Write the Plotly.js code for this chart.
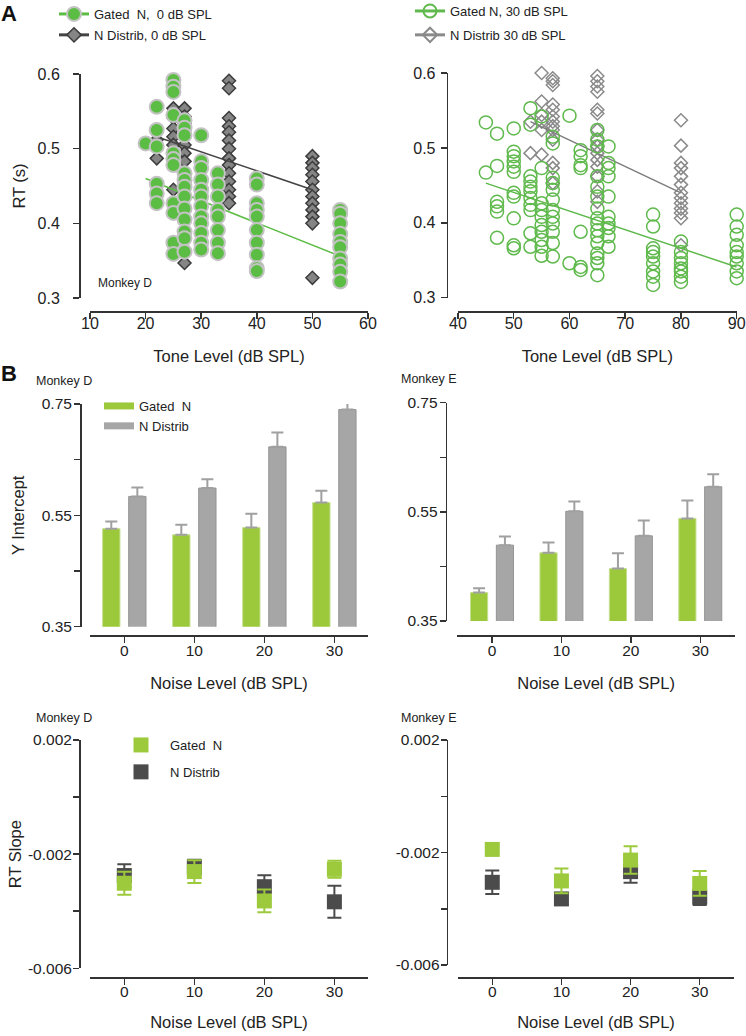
<!DOCTYPE html>
<html>
<head>
<meta charset="utf-8">
<script src="https://cdn.plot.ly/plotly-3.0.1.min.js"></script>
<style>html,body{margin:0;padding:0;background:#fff}</style>
</head>
<body>
<div id="chart" style="width:746px;height:1036px"></div>
<script>
// ---------------- Panel A data (RT vs tone level) ----------------
const gated0Levels = [20, 22, 25, 27, 30, 33, 40, 55];
const gated0RT = [
  [0.507],
  [0.556, 0.525, 0.503, 0.453, 0.440, 0.427],
  [0.601, 0.592, 0.583, 0.576, 0.545, 0.494, 0.486, 0.478, 0.427, 0.414, 0.374, 0.359],
  [0.538, 0.528, 0.518, 0.467, 0.458, 0.449, 0.436, 0.420, 0.405, 0.389, 0.380, 0.362],
  [0.518, 0.483, 0.474, 0.458, 0.445, 0.436, 0.423, 0.409, 0.400, 0.387, 0.374, 0.365],
  [0.467, 0.452, 0.436, 0.418, 0.409, 0.391, 0.374, 0.360],
  [0.460, 0.452, 0.427, 0.418, 0.409, 0.391, 0.374, 0.358, 0.340, 0.336],
  [0.418, 0.413, 0.400, 0.386, 0.375, 0.368, 0.353, 0.345, 0.335, 0.322]
];
const distrib0Levels = [22, 25, 27, 35, 50];
const distrib0RT = [
  [0.487, 0.512],
  [0.554, 0.541, 0.527, 0.516, 0.505, 0.494, 0.485, 0.445],
  [0.554, 0.543, 0.534, 0.505, 0.494, 0.483, 0.347],
  [0.591, 0.581, 0.541, 0.530, 0.522, 0.511, 0.500, 0.487, 0.478, 0.467, 0.456, 0.445, 0.436, 0.427],
  [0.490, 0.481, 0.474, 0.465, 0.456, 0.445, 0.436, 0.427, 0.418, 0.409, 0.400, 0.327]
];
const fitGated0X = [20, 55];
const fitGated0Y = [0.460, 0.356];
const fitDistrib0X = [22, 50];
const fitDistrib0Y = [0.516, 0.445];

const gated30Levels = [45, 47, 50, 53, 55, 57, 60, 62, 65, 67, 75, 80, 90];
const gated30RT = [
  [0.534, 0.467],
  [0.519, 0.476, 0.428, 0.422, 0.415, 0.380],
  [0.526, 0.495, 0.489, 0.482, 0.475, 0.468, 0.440, 0.435, 0.406, 0.370, 0.366],
  [0.553, 0.531, 0.462, 0.455, 0.448, 0.442, 0.433, 0.424, 0.417, 0.386, 0.368],
  [0.542, 0.473, 0.426, 0.417, 0.408, 0.397, 0.388, 0.377, 0.368, 0.356],
  [0.515, 0.506, 0.460, 0.453, 0.444, 0.431, 0.417, 0.408, 0.399, 0.388, 0.373, 0.355],
  [0.543, 0.346],
  [0.497, 0.489, 0.477, 0.473, 0.388, 0.341, 0.337],
  [0.524, 0.511, 0.502, 0.462, 0.448, 0.435, 0.419, 0.406, 0.399, 0.390, 0.382, 0.373, 0.359, 0.353, 0.346, 0.330],
  [0.502, 0.480, 0.473, 0.462, 0.435, 0.408, 0.399, 0.393, 0.382, 0.368],
  [0.411, 0.395, 0.366, 0.361, 0.355, 0.346, 0.335, 0.328, 0.317],
  [0.375, 0.361, 0.353, 0.346, 0.339, 0.335, 0.328, 0.321],
  [0.411, 0.395, 0.384, 0.370, 0.361, 0.355, 0.346, 0.335, 0.326]
];
const distrib30Levels = [53, 55, 57, 65, 80];
const distrib30RT = [
  [0.535, 0.493],
  [0.600, 0.562, 0.544, 0.535, 0.524, 0.491],
  [0.593, 0.589, 0.584, 0.558, 0.551, 0.542, 0.535, 0.529, 0.524, 0.511, 0.480, 0.473, 0.453],
  [0.596, 0.589, 0.582, 0.575, 0.551, 0.546, 0.524, 0.511, 0.502, 0.493, 0.484, 0.475, 0.462, 0.442, 0.428],
  [0.537, 0.503, 0.480, 0.473, 0.462, 0.451, 0.440, 0.433, 0.426, 0.419, 0.413, 0.406, 0.370]
];
const fitGated30X = [45, 90];
const fitGated30Y = [0.453, 0.341];
const fitDistrib30X = [53, 80];
const fitDistrib30Y = [0.535, 0.440];

// ---------------- Panel B data ----------------
const noiseLevels = [0, 10, 20, 30];
const noiseTickText = ['0', '10', '20', '30'];

const interceptD_gated = [0.526, 0.515, 0.528, 0.573];
const interceptD_gatedErr = [0.013, 0.018, 0.025, 0.021];
const interceptD_distrib = [0.584, 0.599, 0.673, 0.740];
const interceptD_distribErr = [0.016, 0.016, 0.026, 0.013];

const interceptE_gated = [0.402, 0.475, 0.446, 0.538];
const interceptE_gatedErr = [0.008, 0.019, 0.028, 0.033];
const interceptE_distrib = [0.489, 0.551, 0.506, 0.596];
const interceptE_distribErr = [0.016, 0.018, 0.028, 0.023];

const interceptTicks = [0.35, 0.45, 0.55, 0.65, 0.75];
const interceptTickText = ['0.35', '', '0.55', '', '0.75'];

const slopeD_gated = [-0.00302, -0.00261, -0.00364, -0.00253];
const slopeD_gatedErr = [0.0004, 0.0004, 0.0004, 0.0003];
const slopeD_distrib = [-0.00275, -0.00245, -0.00314, -0.00367];
const slopeD_distribErr = [0.0004, 0.00025, 0.0004, 0.00056];

const slopeE_gated = [-0.00189, -0.00301, -0.00227, -0.00310];
const slopeE_gatedErr = [0.0001, 0.00044, 0.00049, 0.00044];
const slopeE_distrib = [-0.00306, -0.00365, -0.00268, -0.00359];
const slopeE_distribErr = [0.00042, 0.0002, 0.0004, 0.00028];

const slopeTicks = [-0.006, -0.004, -0.002, 0, 0.002];
const slopeTickText = ['-0.006', '', '-0.002', '', '0.002'];

// ---------------- helpers ----------------
const W = 746, H = 1036;
const fx = p => p / W;
const fy = p => 1 - p / H;
const FONT = '"Liberation Sans", Arial, Helvetica, sans-serif';
const INK = '#222222';

function flatten(levels, groups) {
  const x = [], y = [];
  levels.forEach((lv, i) => groups[i].forEach(v => { x.push(lv); y.push(v); }));
  return {x, y};
}

const G_FILL = '#5cbd45';
const G_OPEN = '#5fb94c';
const BAR_GREEN = '#9cc93b';
const BAR_GRAY = '#a6a6a6';
const SQ_GREEN = '#9cca3c';
const SQ_DARK = '#4b4b4b';

const g0 = flatten(gated0Levels, gated0RT);
const d0 = flatten(distrib0Levels, distrib0RT);
const g30 = flatten(gated30Levels, gated30RT);
const d30 = flatten(distrib30Levels, distrib30RT);

const traces = [];

// Panel A left
traces.push({type: 'scatter', mode: 'markers', x: d0.x, y: d0.y, xaxis: 'x', yaxis: 'y',
  name: 'N Distrib, 0 dB SPL', showlegend: false, cliponaxis: false,
  marker: {symbol: 'diamond', size: 10, color: '#858585', line: {color: '#3c3c3c', width: 1.5}}});
traces.push({type: 'scatter', mode: 'lines', x: fitDistrib0X, y: fitDistrib0Y, xaxis: 'x', yaxis: 'y',
  showlegend: false, line: {color: '#444444', width: 1.5}});
traces.push({type: 'scatter', mode: 'lines', x: fitGated0X, y: fitGated0Y, xaxis: 'x', yaxis: 'y',
  showlegend: false, line: {color: G_FILL, width: 1.5}});
traces.push({type: 'scatter', mode: 'markers', x: g0.x, y: g0.y, xaxis: 'x', yaxis: 'y',
  name: 'Gated  N,  0 dB SPL', showlegend: false, cliponaxis: false,
  marker: {symbol: 'circle', size: 14, color: G_FILL, line: {color: '#c3c3c3', width: 2}}});

// Panel A right
traces.push({type: 'scatter', mode: 'markers', x: d30.x, y: d30.y, xaxis: 'x2', yaxis: 'y2',
  name: 'N Distrib 30 dB SPL', showlegend: false, cliponaxis: false,
  marker: {symbol: 'diamond-open', size: 10, color: '#8a8a8a', line: {width: 1.5}}});
traces.push({type: 'scatter', mode: 'lines', x: fitDistrib30X, y: fitDistrib30Y, xaxis: 'x2', yaxis: 'y2',
  showlegend: false, line: {color: '#7d7d7d', width: 1.5}});
traces.push({type: 'scatter', mode: 'markers', x: g30.x, y: g30.y, xaxis: 'x2', yaxis: 'y2',
  name: 'Gated N, 30 dB SPL', showlegend: false, cliponaxis: false,
  marker: {symbol: 'circle-open', size: 13, color: G_OPEN, line: {width: 1.5}}});
traces.push({type: 'scatter', mode: 'lines', x: fitGated30X, y: fitGated30Y, xaxis: 'x2', yaxis: 'y2',
  showlegend: false, line: {color: G_OPEN, width: 1.5}});

// Legend-only entries for panel A
traces.push({type: 'scatter', mode: 'lines+markers', x: [null], y: [null], xaxis: 'x', yaxis: 'y',
  name: 'Gated  N,  0 dB SPL', legend: 'legend', legendgroup: 'a1', legendrank: 1,
  line: {color: G_FILL, width: 3}, marker: {symbol: 'circle', size: 14, color: G_FILL, line: {color: '#c3c3c3', width: 2}}});
traces.push({type: 'scatter', mode: 'lines+markers', x: [null], y: [null], xaxis: 'x', yaxis: 'y',
  name: 'N Distrib, 0 dB SPL', legend: 'legend', legendgroup: 'a2', legendrank: 2,
  line: {color: '#444444', width: 3}, marker: {symbol: 'diamond', size: 11, color: '#858585', line: {color: '#3c3c3c', width: 1.5}}});
traces.push({type: 'scatter', mode: 'lines+markers', x: [null], y: [null], xaxis: 'x2', yaxis: 'y2',
  name: 'Gated N, 30 dB SPL', legend: 'legend2', legendgroup: 'b1', legendrank: 1,
  line: {color: G_OPEN, width: 3}, marker: {symbol: 'circle-open', size: 13, color: G_OPEN, line: {width: 2}}});
traces.push({type: 'scatter', mode: 'lines+markers', x: [null], y: [null], xaxis: 'x2', yaxis: 'y2',
  name: 'N Distrib 30 dB SPL', legend: 'legend2', legendgroup: 'b2', legendrank: 2,
  line: {color: '#8a8a8a', width: 3}, marker: {symbol: 'diamond-open', size: 11, color: '#8a8a8a', line: {width: 2}}});

// Panel B bars
function barTrace(y, err, color, lineColor, xa, ya, name) {
  return {type: 'bar', x: noiseLevels, y: y, xaxis: xa, yaxis: ya, name: name, showlegend: false,
    marker: {color: color, line: {color: lineColor, width: 1}},
    error_y: {type: 'data', symmetric: false, array: err, arrayminus: err.map(() => 0),
      color: '#a0a0a0', thickness: 2, width: 6}};
}
traces.push(barTrace(interceptD_gated, interceptD_gatedErr, BAR_GREEN, '#c4df8e', 'x3', 'y3', 'Gated  N'));
traces.push(barTrace(interceptD_distrib, interceptD_distribErr, BAR_GRAY, '#949494', 'x3', 'y3', 'N Distrib'));
traces.push(barTrace(interceptE_gated, interceptE_gatedErr, BAR_GREEN, '#c4df8e', 'x4', 'y4', 'Gated  N'));
traces.push(barTrace(interceptE_distrib, interceptE_distribErr, BAR_GRAY, '#949494', 'x4', 'y4', 'N Distrib'));
traces.push({type: 'scatter', mode: 'lines', x: [null], y: [null], xaxis: 'x3', yaxis: 'y3',
  name: 'Gated  N', legend: 'legend3', legendgroup: 'c1', legendrank: 1, line: {color: BAR_GREEN, width: 7}});
traces.push({type: 'scatter', mode: 'lines', x: [null], y: [null], xaxis: 'x3', yaxis: 'y3',
  name: 'N Distrib', legend: 'legend3', legendgroup: 'c2', legendrank: 2, line: {color: BAR_GRAY, width: 7}});

// Panel B slopes
function slopeTrace(y, err, color, xa, ya, name, showlegend, group, rank) {
  return {type: 'scatter', mode: 'markers', x: noiseLevels, y: y, xaxis: xa, yaxis: ya, name: name,
    showlegend: showlegend, legend: 'legend4', legendgroup: group, legendrank: rank, cliponaxis: false,
    marker: {symbol: 'square', size: 15, color: color},
    error_y: {type: 'data', array: err, color: color, thickness: 2, width: 7}};
}
traces.push(slopeTrace(slopeD_distrib, slopeD_distribErr, SQ_DARK, 'x5', 'y5', 'N Distrib', true, 'd2', 2));
traces.push(slopeTrace(slopeD_gated, slopeD_gatedErr, SQ_GREEN, 'x5', 'y5', 'Gated  N', true, 'd1', 1));
traces.push(slopeTrace(slopeE_distrib, slopeE_distribErr, SQ_DARK, 'x6', 'y6', 'N Distrib', false, 'd2', 2));
traces.push(slopeTrace(slopeE_gated, slopeE_gatedErr, SQ_GREEN, 'x6', 'y6', 'Gated  N', false, 'd1', 1));

// ---------------- layout ----------------
function ax(opts) {
  return Object.assign({
    anchor: 'free', showline: true, linecolor: '#333333', linewidth: 1.5,
    ticks: 'outside', ticklen: 6, tickwidth: 1.5, tickcolor: '#333333',
    showgrid: false, zeroline: false, fixedrange: true,
    tickfont: {family: FONT, size: 16, color: INK}
  }, opts);
}
function ttl(text, standoff) {
  return {text: text, standoff: standoff, font: {family: FONT, size: 16.5, color: INK}};
}
const bTick = {family: FONT, size: 15.5, color: INK};

function legendBox(x, yTop, gap, itemwidth) {
  return {x: fx(x), y: fy(yTop), xanchor: 'left', yanchor: 'top', bgcolor: 'rgba(0,0,0,0)',
    borderwidth: 0, tracegroupgap: gap, itemwidth: itemwidth,
    font: {family: FONT, size: 13, color: INK}};
}

const layout = {
  width: W, height: H,
  margin: {l: 0, r: 0, t: 0, b: 0, autoexpand: false},
  paper_bgcolor: '#ffffff', plot_bgcolor: 'rgba(0,0,0,0)',
  font: {family: FONT, color: INK},
  barmode: 'group', bargap: 0.256, bargroupgap: 0.336,
  hovermode: false,
  xaxis: ax({domain: [fx(90), fx(368)], range: [10, 60], tick0: 10, dtick: 10, position: fy(311),
    ticklabelstandoff: -9, title: ttl('Tone Level (dB SPL)', 19)}),
  yaxis: ax({domain: [fy(298), fy(74)], range: [0.3, 0.6], tick0: 0.3, dtick: 0.1, tickformat: '.1f', position: fx(79),
    ticklabelstandoff: 10, title: ttl('RT (s)', 6)}),
  xaxis2: ax({domain: [fx(458), fx(736.7)], range: [40, 90], tick0: 40, dtick: 10, position: fy(311),
    ticklabelstandoff: -9, title: ttl('Tone Level (dB SPL)', 19)}),
  yaxis2: ax({domain: [fy(297.7), fy(73)], range: [0.3, 0.6], tick0: 0.3, dtick: 0.1, tickformat: '.1f', position: fx(446.7),
    ticklabelstandoff: 2}),
  xaxis3: ax({domain: [fx(90), fx(368)], range: [-4.9, 34.8], tickvals: noiseLevels, ticktext: noiseTickText,
    position: fy(635.3), tickfont: bTick, ticklabelstandoff: -5, title: ttl('Noise Level (dB SPL)', 19)}),
  yaxis3: ax({domain: [fy(626.7), fy(404)], range: [0.35, 0.75], tickvals: interceptTicks, ticktext: interceptTickText,
    position: fx(80), tickfont: bTick, ticklabelstandoff: -1, title: ttl('Y Intercept', 11)}),
  xaxis4: ax({domain: [fx(457.3), fx(735)], range: [-5, 35], tickvals: noiseLevels, ticktext: noiseTickText,
    position: fy(635.3), tickfont: bTick, ticklabelstandoff: -5, title: ttl('Noise Level (dB SPL)', 19)}),
  yaxis4: ax({domain: [fy(621), fy(402.7)], range: [0.35, 0.75], tickvals: interceptTicks, ticktext: interceptTickText,
    position: fx(445.7), tickfont: bTick, ticklabelstandoff: -1}),
  xaxis5: ax({domain: [fx(90), fx(368)], range: [-4.9, 34.8], tickvals: noiseLevels, ticktext: noiseTickText,
    position: fy(977.3), tickfont: bTick, ticklabelstandoff: -6, title: ttl('Noise Level (dB SPL)', 17)}),
  yaxis5: ax({domain: [fy(968.3), fy(740)], range: [-0.006, 0.002], tickvals: slopeTicks, ticktext: slopeTickText,
    position: fx(79), tickfont: bTick, ticklabelstandoff: -2, title: ttl('RT Slope', 0)}),
  xaxis6: ax({domain: [fx(457.7), fx(734.3)], range: [-5, 35], tickvals: noiseLevels, ticktext: noiseTickText,
    position: fy(977.3), tickfont: bTick, ticklabelstandoff: -6, title: ttl('Noise Level (dB SPL)', 17)}),
  yaxis6: ax({domain: [fy(965), fy(740)], range: [-0.006, 0.002], tickvals: slopeTicks, ticktext: slopeTickText,
    position: fx(446.7), tickfont: bTick, ticklabelstandoff: -2}),
  legend: legendBox(54, -1, 1, 30),
  legend2: legendBox(410, -4, 4, 30),
  legend3: legendBox(99, 391, 0, 30),
  legend4: legendBox(112, 730, 7, 48),
  annotations: [
    {text: '<b>A</b>', x: fx(9), y: fy(14), xref: 'paper', yref: 'paper', showarrow: false,
      xanchor: 'center', yanchor: 'middle', font: {family: FONT, size: 22, color: '#111'}},
    {text: '<b>B</b>', x: fx(9), y: fy(373), xref: 'paper', yref: 'paper', showarrow: false,
      xanchor: 'center', yanchor: 'middle', font: {family: FONT, size: 22, color: '#111'}},
    {text: 'Monkey D', x: fx(96), y: fy(283), xref: 'paper', yref: 'paper', showarrow: false,
      xanchor: 'left', yanchor: 'middle', font: {family: FONT, size: 12, color: INK}},
    {text: 'Monkey D', x: fx(34), y: fy(381), xref: 'paper', yref: 'paper', showarrow: false,
      xanchor: 'left', yanchor: 'middle', font: {family: FONT, size: 12.5, color: INK}},
    {text: 'Monkey E', x: fx(399), y: fy(379), xref: 'paper', yref: 'paper', showarrow: false,
      xanchor: 'left', yanchor: 'middle', font: {family: FONT, size: 12.5, color: INK}},
    {text: 'Monkey D', x: fx(34), y: fy(718), xref: 'paper', yref: 'paper', showarrow: false,
      xanchor: 'left', yanchor: 'middle', font: {family: FONT, size: 12.5, color: INK}},
    {text: 'Monkey E', x: fx(399), y: fy(718), xref: 'paper', yref: 'paper', showarrow: false,
      xanchor: 'left', yanchor: 'middle', font: {family: FONT, size: 12.5, color: INK}}
  ]
};

Plotly.newPlot('chart', traces, layout, {displayModeBar: false, staticPlot: true});
</script>
</body>
</html>
